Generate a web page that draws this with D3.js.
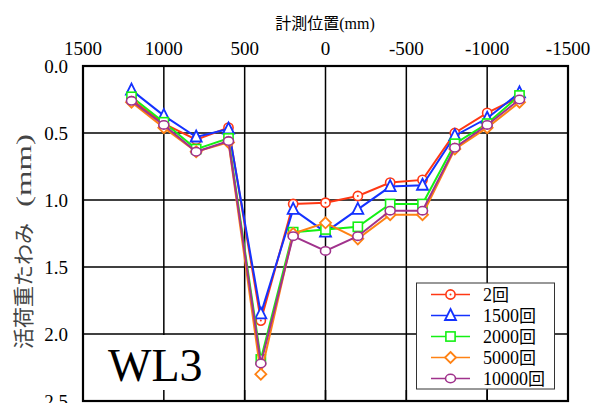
<!DOCTYPE html>
<html>
<head>
<meta charset="utf-8">
<script src="https://cdn.jsdelivr.net/npm/d3@7"></script>
<style>
body { margin: 0; background: #fff; }
</style>
</head>
<body>
<div id="my_dataviz"></div>
<script>
// data
var positions = [1200, 1000, 800, 600, 400, 200, 0, -200, -400, -600, -800, -1000, -1200];
var d2 = [0.25, 0.43, 0.55, 0.46, 1.90, 1.03, 1.02, 0.97, 0.87, 0.85, 0.50, 0.35, 0.23];
var d1500 = [0.18, 0.37, 0.53, 0.47, 1.85, 1.07, 1.24, 1.07, 0.90, 0.89, 0.52, 0.39, 0.20];
var d2000 = [0.23, 0.42, 0.62, 0.54, 2.19, 1.24, 1.22, 1.20, 1.03, 1.03, 0.58, 0.43, 0.22];
var d5000 = [0.27, 0.46, 0.64, 0.57, 2.30, 1.25, 1.17, 1.29, 1.11, 1.11, 0.62, 0.46, 0.27];
var d10000 = [0.26, 0.44, 0.64, 0.56, 2.22, 1.27, 1.38, 1.27, 1.08, 1.08, 0.61, 0.44, 0.25];
var seriesNames = ["2回", "1500回", "2000回", "5000回", "10000回"];
var xTicks = [1500, 1000, 500, 0, -500, -1000, -1500];
var yTicks = [0.0, 0.5, 1.0, 1.5, 2.0, 2.5];

var series = [
    {name: seriesNames[0], values: d2, color: "#ff3814", marker: "circleDot"},
    {name: seriesNames[1], values: d1500, color: "#1432ff", marker: "triangle"},
    {name: seriesNames[2], values: d2000, color: "#14f014", marker: "square"},
    {name: seriesNames[3], values: d5000, color: "#ff8214", marker: "diamond"},
    {name: seriesNames[4], values: d10000, color: "#a0328c", marker: "ellipse"}
];

var SERIF = "'Liberation Serif', 'Times New Roman', serif";
var CJK = "'Noto Sans CJK JP', sans-serif";

var W = 603, H = 403;
var plotLeft = 83, plotRight = 568, plotTop = 66, plotBottom = 401;

var svg = d3.select("#my_dataviz")
    .append("svg")
    .attr("width", W)
    .attr("height", H)
    .style("display", "block");

var x = d3.scaleLinear().domain([1500, -1500]).range([plotLeft, plotRight]);
var y = d3.scaleLinear().domain([0, 2.5]).range([plotTop, plotBottom]);

// grid
svg.append("g").selectAll("line")
    .data(xTicks.slice(1, -1))
    .enter().append("line")
    .attr("x1", d => x(d)).attr("x2", d => x(d))
    .attr("y1", plotTop).attr("y2", plotBottom)
    .attr("stroke", "#000").attr("stroke-width", 1.5);
svg.append("g").selectAll("line")
    .data(yTicks.slice(1, -1))
    .enter().append("line")
    .attr("x1", plotLeft).attr("x2", plotRight)
    .attr("y1", d => y(d)).attr("y2", d => y(d))
    .attr("stroke", "#000").attr("stroke-width", 1.5);

// WL3 label box covers the grid
svg.append("rect")
    .attr("x", plotLeft).attr("y", y(2.0) + 1)
    .attr("width", 132).attr("height", plotBottom - y(2.0) - 1)
    .attr("fill", "#fff");
svg.append("text")
    .attr("x", 108).attr("y", 381)
    .style("font-family", SERIF)
    .style("font-size", "46px")
    .text("WL3");

// inward ticks on the bottom edge
svg.append("g").selectAll("line")
    .data(xTicks.slice(1, -1))
    .enter().append("line")
    .attr("x1", d => x(d)).attr("x2", d => x(d))
    .attr("y1", plotBottom - 11).attr("y2", plotBottom)
    .attr("stroke", "#000").attr("stroke-width", 1.5);

// top axis labels
svg.append("g").selectAll("text")
    .data(xTicks)
    .enter().append("text")
    .attr("x", d => x(d)).attr("y", 55)
    .attr("text-anchor", "middle")
    .style("font-family", SERIF)
    .style("font-size", "19px")
    .text(d => d);

var title = svg.append("text")
    .attr("x", 325).attr("y", 29)
    .attr("text-anchor", "middle")
    .style("font-family", SERIF)
    .style("font-size", "16px");
title.append("tspan").style("font-family", CJK).text("計測位置");
title.append("tspan").text("(mm)");

// left axis labels
svg.append("g").selectAll("text")
    .data(yTicks)
    .enter().append("text")
    .attr("x", 68).attr("y", d => y(d))
    .attr("dy", "0.35em")
    .attr("text-anchor", "end")
    .style("font-family", SERIF)
    .style("font-size", "19px")
    .text(d => d.toFixed(1));

svg.append("text")
    .attr("transform", "translate(31,349) rotate(-90)")
    .attr("fill", "#444")
    .style("font-family", CJK)
    .style("font-size", "21px")
    .text("活荷重たわみ");
svg.append("text")
    .attr("transform", "translate(31,207) rotate(-90)")
    .attr("fill", "#444")
    .attr("textLength", 73)
    .attr("lengthAdjust", "spacingAndGlyphs")
    .style("font-family", SERIF)
    .style("font-size", "22px")
    .text("(mm)");

// markers
function drawMarker(g, type, color) {
    if (type == "circleDot") {
        g.append("circle").attr("r", 4.6).attr("fill", "#fff").attr("stroke", color).attr("stroke-width", 1.6);
        g.append("circle").attr("r", 1).attr("fill", color);
    } else if (type == "triangle") {
        g.append("path").attr("d", "M0,-6.5L5.5,4.5L-5.5,4.5Z").attr("fill", "#fff").attr("stroke", color).attr("stroke-width", 1.8);
    } else if (type == "square") {
        g.append("rect").attr("x", -4.6).attr("y", -4.6).attr("width", 9.2).attr("height", 9.2).attr("fill", "#fff").attr("stroke", color).attr("stroke-width", 1.6);
    } else if (type == "diamond") {
        g.append("path").attr("d", "M0,-5.5L5.5,0L0,5.5L-5.5,0Z").attr("fill", "#fff").attr("stroke", color).attr("stroke-width", 1.8);
    } else {
        g.append("ellipse").attr("rx", 5).attr("ry", 4.2).attr("fill", "#fff").attr("stroke", color).attr("stroke-width", 1.6);
    }
}

var line = d3.line()
    .x((d, i) => x(positions[i]))
    .y(d => y(d));

series.forEach(function(s) {
    var g = svg.append("g");
    g.append("path")
        .attr("d", line(s.values))
        .attr("fill", "none")
        .attr("stroke", s.color)
        .attr("stroke-width", 2);
    s.values.forEach(function(v, i) {
        var m = g.append("g").attr("transform", "translate(" + x(positions[i]) + "," + y(v) + ")");
        drawMarker(m, s.marker, s.color);
    });
});

// legend
var lg = svg.append("g");
lg.append("rect")
    .attr("x", 416.5).attr("y", 283).attr("width", 138).attr("height", 106)
    .attr("fill", "#fff").attr("stroke", "#333").attr("stroke-width", 1);
series.forEach(function(s, i) {
    var ry = 294.5 + i * 21;
    lg.append("line")
        .attr("x1", 431).attr("x2", 470)
        .attr("y1", ry).attr("y2", ry)
        .attr("stroke", s.color).attr("stroke-width", 1.6);
    var m = lg.append("g").attr("transform", "translate(450.5," + ry + ")");
    drawMarker(m, s.marker, s.color);
    var t = lg.append("text")
        .attr("x", 483).attr("y", ry)
        .attr("dy", "0.35em")
        .style("font-family", SERIF)
        .style("font-size", "18px");
    t.append("tspan").text(s.name.replace("回", ""));
    t.append("tspan").style("font-family", CJK).style("font-size", "17px").text("回");
});

// frame
svg.append("rect")
    .attr("x", plotLeft).attr("y", plotTop)
    .attr("width", plotRight - plotLeft).attr("height", plotBottom - plotTop)
    .attr("fill", "none").attr("stroke", "#000").attr("stroke-width", 2.2);
</script>
</body>
</html>
